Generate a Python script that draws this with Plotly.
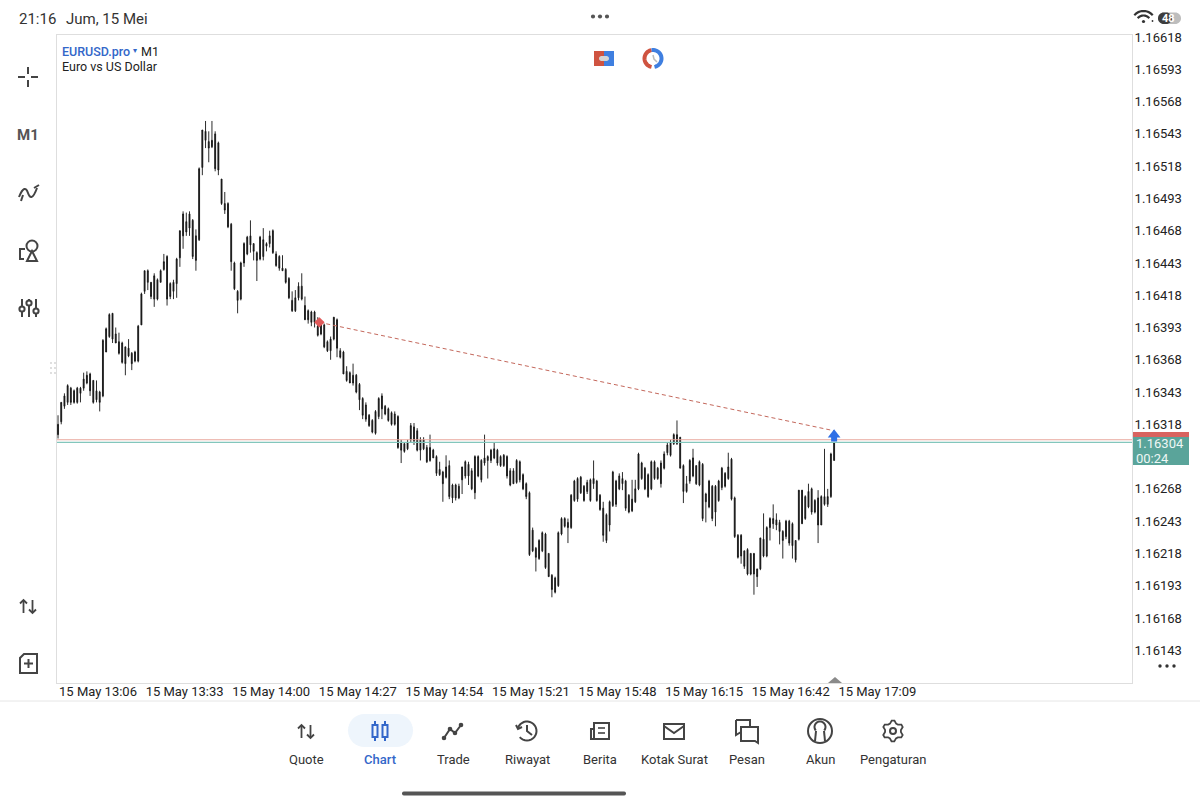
import math
import pandas as pd
import plotly.graph_objects as go

# M1 candles for EURUSD, in points above 1.16000 (1 pt = 0.00001)
BASE = 1.16
START = "2026-05-15 13:06"

high_pts = [
    325,335,342,349,347,345,347,347,358,359,
    358,352,352,344,384,393,404,404,393,389,
    382,378,384,374,375,395,420,437,438,428,
    435,431,438,450,449,428,430,447,468,483,
    482,483,477,469,517,546,553,545,553,545,
    537,508,498,490,474,444,422,444,459,464,
    476,458,452,464,470,459,468,469,452,449,
    449,439,432,421,422,428,435,417,407,406,
    406,401,396,396,383,386,401,400,377,375,
    363,359,365,357,350,339,335,326,322,329,
    339,342,333,331,328,328,325,306,304,306,
    319,319,315,308,308,302,310,299,294,289,
    282,294,290,272,272,272,285,290,289,284,
    294,294,291,310,294,299,304,299,294,295,
    294,284,284,291,290,280,273,266,238,223,
    229,235,234,218,202,200,235,246,246,245,
    264,275,277,278,271,275,276,290,275,264,
    258,249,259,282,275,280,281,275,264,275,
    275,296,289,285,280,290,290,285,290,297,
    304,306,311,321,308,287,278,291,299,286,
    290,288,265,275,271,271,275,285,281,296,
    292,262,233,233,220,222,218,218,206,230,
    249,239,246,256,249,244,236,244,244,242,
    228,267,267,263,272,269,260,267,263,299,
    268,296,304,
]
low_pts = [
    307,318,330,333,333,334,334,335,344,349,
    340,334,335,328,339,374,385,381,381,372,
    365,356,370,360,366,366,395,419,422,415,
    409,414,428,437,410,415,415,416,440,454,
    464,464,446,437,460,511,532,521,532,514,
    511,488,481,470,437,422,404,414,440,449,
    451,445,429,445,445,452,455,450,440,437,
    437,427,415,405,405,414,414,399,396,394,
    393,386,387,377,374,368,383,370,369,357,
    351,350,348,342,329,322,320,316,311,310,
    322,322,325,320,317,317,299,288,296,298,
    304,302,297,290,298,288,289,292,278,278,
    258,276,260,257,259,260,264,276,271,267,
    260,277,273,286,276,288,291,286,285,285,
    276,270,272,272,273,267,260,216,219,204,
    213,219,206,200,184,187,192,232,238,226,
    237,258,258,264,258,264,258,268,258,251,
    227,226,235,254,254,267,267,251,249,250,
    257,267,275,267,261,267,275,275,269,283,
    294,293,302,302,284,257,265,272,277,271,
    270,243,242,253,243,239,258,267,269,275,
    259,230,214,210,206,201,201,186,192,205,
    215,215,228,237,236,225,214,229,224,214,
    211,228,241,244,253,248,249,226,240,255,
    254,261,290,
]
body_top_pts = [
    318,335,340,348,346,344,346,346,353,356,
    357,352,344,343,383,392,403,404,388,382,
    381,378,377,373,374,394,419,437,437,428,
    433,430,437,444,448,427,428,446,468,481,
    475,481,476,464,516,546,545,537,538,543,
    536,508,489,489,473,443,421,443,458,463,
    464,458,451,463,461,458,464,468,450,448,
    439,438,431,414,416,425,425,410,406,405,
    405,394,395,395,382,384,401,399,375,374,
    359,358,356,356,349,338,333,325,321,328,
    338,340,332,330,327,326,324,304,303,304,
    317,316,313,306,306,300,300,298,293,283,
    281,285,286,271,271,270,285,289,287,282,
    293,293,290,292,293,298,299,298,293,294,
    293,282,282,290,289,279,272,265,236,222,
    228,234,233,218,201,199,234,245,245,242,
    263,274,276,277,270,273,275,276,274,263,
    253,248,258,281,274,278,276,274,263,260,
    268,295,288,284,279,289,289,284,288,295,
    302,304,310,310,308,286,272,290,292,286,
    289,287,264,274,270,270,274,284,280,285,
    291,261,232,232,220,221,218,218,206,230,
    229,238,245,245,244,242,235,243,243,241,
    228,267,267,262,266,268,259,261,262,262,
    262,295,304,
]
body_bottom_pts = [
    310,320,332,335,335,335,335,342,346,350,
    344,335,337,335,340,374,386,384,381,373,
    366,365,371,365,367,367,395,421,428,417,
    415,415,428,438,415,417,421,427,447,464,
    467,470,448,445,461,517,538,532,533,516,
    515,489,484,471,444,423,414,415,443,450,
    457,452,445,446,448,456,458,451,441,439,
    437,428,416,406,406,416,415,399,399,397,
    397,387,388,378,375,375,384,377,370,357,
    352,350,350,343,337,325,322,317,312,311,
    324,330,326,321,318,318,300,298,297,299,
    306,305,298,298,299,289,290,292,280,279,
    272,277,262,261,261,261,275,278,278,268,
    265,278,275,288,290,290,292,288,286,286,
    278,271,272,273,275,268,262,217,220,215,
    214,220,207,200,190,188,193,233,239,238,
    238,259,260,265,259,266,259,272,259,252,
    232,228,240,255,256,268,272,253,250,251,
    258,268,276,268,262,268,276,276,272,284,
    296,294,303,303,284,266,266,274,278,272,
    271,245,258,254,245,250,259,269,270,276,
    260,231,215,216,208,202,202,202,200,206,
    216,216,238,241,240,235,228,231,226,224,
    213,229,241,245,254,250,250,240,240,256,
    256,262,290,
]
assert len(high_pts) == len(low_pts) == len(body_top_pts) == len(body_bottom_pts) == 243

price_ticks = ["1.16618","1.16593","1.16568","1.16543","1.16518","1.16493","1.16468","1.16443",
               "1.16418","1.16393","1.16368","1.16343","1.16318","1.16268","1.16243","1.16218",
               "1.16193","1.16168","1.16143"]
time_ticks = ["13:06","13:33","14:00","14:27","14:54","15:21","15:48","16:15","16:42","17:09"]
nav_labels = ["Quote","Chart","Trade","Riwayat","Berita","Kotak Surat","Pesan","Akun","Pengaturan"]

bid_price = 1.16304
ask_price = 1.16306
trade_open_price = 1.16397
trade_close_price = 1.16313
arrow_head_price = 1.16310
arrow_stem_price = 1.16307

INK = "#222222"
ICON = "#444444"
BLUE = "#3367c9"

times = pd.date_range(START, periods=len(high_pts), freq="min")


def price(p):
    return BASE + p / 1e5


# Candle direction follows the movement of the body midpoint
mids = [(t + b) / 2 for t, b in zip(body_top_pts, body_bottom_pts)]
opens, closes = [], []
for i, (t, b) in enumerate(zip(body_top_pts, body_bottom_pts)):
    rising = i == 0 or mids[i] >= mids[i - 1]
    opens.append(price(b if rising else t))
    closes.append(price(t if rising else b))

fig = go.Figure()
fig.add_trace(go.Candlestick(
    x=times, open=opens, high=[price(v) for v in high_pts],
    low=[price(v) for v in low_pts], close=closes,
    increasing=dict(line=dict(color="#141414", width=0.9), fillcolor="#141414"),
    decreasing=dict(line=dict(color="#141414", width=0.9), fillcolor="#141414"),
    whiskerwidth=0, hoverinfo="skip", showlegend=False,
))

x_start = pd.Timestamp("2026-05-15 13:05:41")
x_end = pd.Timestamp("2026-05-15 18:40:53")

# Ask and bid price lines
for level, colour in ((ask_price, "#e8a79d"), (bid_price, "#83c6bc")):
    fig.add_trace(go.Scatter(x=[x_start, x_end], y=[level, level], mode="lines",
                             line=dict(color=colour, width=1.1), hoverinfo="skip", showlegend=False))

# Closed trade: dashed link, entry diamond, exit arrow
trade_open_t = pd.Timestamp("2026-05-15 14:27:30")
trade_close_t = times[-1]
fig.add_trace(go.Scatter(x=[trade_open_t, trade_close_t], y=[trade_open_price, trade_close_price],
                         mode="lines", line=dict(color="#c4685c", width=1, dash="4px,3px"),
                         hoverinfo="skip", showlegend=False))
fig.add_trace(go.Scatter(x=[trade_open_t], y=[trade_open_price], mode="markers",
                         marker=dict(symbol="diamond", size=8, color="#e05a5a"),
                         hoverinfo="skip", showlegend=False))
fig.add_trace(go.Scatter(x=[trade_close_t, trade_close_t], y=[arrow_stem_price, arrow_head_price],
                         mode="markers",
                         marker=dict(symbol=["square", "triangle-up"], size=[6, 11], color="#2f6fe6",
                                     opacity=1, line=dict(width=0)),
                         hoverinfo="skip", showlegend=False))

# Screen-space helpers for the app chrome around the chart
L, R, T, B = 57, 68, 35, 118
W, H = 1200, 801
PW, PH = W - L - R, H - T - B


def X(px):
    return (px - L) / PW


def Y(py):
    return 1 - (py - T) / PH


def to_paper(d):
    out, is_x = [], True
    for tok in d.split():
        if tok.isalpha():
            out.append(tok)
            is_x = True
        else:
            v = float(tok)
            out.append(f"{X(v):.5f}" if is_x else f"{Y(v):.5f}")
            is_x = not is_x
    return " ".join(out)


shapes, annotations = [], []


def path(d, colour=ICON, width=2, fill=None, layer="above"):
    shapes.append(dict(type="path", xref="paper", yref="paper", path=to_paper(d),
                       line=dict(color=colour, width=width), fillcolor=fill or "rgba(0,0,0,0)",
                       layer=layer))


def rect(x0, y0, x1, y1, fill, colour=None, width=0):
    shapes.append(dict(type="rect", xref="paper", yref="paper", x0=X(x0), x1=X(x1), y0=Y(y1), y1=Y(y0),
                       fillcolor=fill, line=dict(color=colour or fill, width=width), layer="above"))


def circle(cx, cy, r, fill=None, colour=ICON, width=2):
    shapes.append(dict(type="circle", xref="paper", yref="paper", x0=X(cx - r), x1=X(cx + r),
                       y0=Y(cy + r), y1=Y(cy - r), fillcolor=fill or "rgba(0,0,0,0)",
                       line=dict(color=colour, width=width), layer="above"))


def arc(cx, cy, r, a0, a1, n=24, move="M "):
    pts = []
    for k in range(n + 1):
        a = math.radians(a0 + (a1 - a0) * k / n)
        pts.append(f"{cx + r * math.cos(a):.2f} {cy - r * math.sin(a):.2f}")
    return move + " L ".join(pts)


def pill(x0, y0, x1, y1, fill, layer="above"):
    r = (y1 - y0) / 2
    d = arc(x1 - r, y0 + r, r, 90, -90, 16) + arc(x0 + r, y0 + r, r, 270, 90, 16, " L ") + " Z"
    path(d, fill, 0, fill, layer)


def text(x, y, s, size=13, colour=INK, anchor="left", weight=400):
    annotations.append(dict(xref="paper", yref="paper", x=X(x), y=Y(y), text=s, showarrow=False,
                            xanchor=anchor, yanchor="middle", borderpad=0, borderwidth=0,
                            font=dict(family="Roboto", size=size, color=colour, weight=weight)))


# Status bar
text(19, 19, "21:16", 15, "#333333")
text(66, 19, "Jum, 15 Mei", 15, "#333333")
for cx in (593, 600, 607):
    circle(cx, 16.5, 2.1, "#555555", "#555555", 0)
path(arc(1143.5, 23, 12, 40, 140), "#333333", 2.2)
path(arc(1143.5, 23, 7.5, 40, 140), "#333333", 2.2)
circle(1143.5, 21.5, 1.6, "#333333", "#333333", 0)
circle(1152.5, 21, 0.9, "#333333", "#333333", 0)
pill(1158, 12.5, 1181, 24, "#bdbdbd")
pill(1158, 12.5, 1172, 24, "#3d3d3d")
text(1168.5, 18.5, "48", 11, "#ffffff", "center", 700)

# Symbol header
text(62, 51, "EURUSD.pro", 12.5, BLUE, weight=500)
text(133, 50.5, "▾", 8, BLUE)
text(141, 51, "M1", 12.5, INK)
text(62, 66, "Euro vs US Dollar", 12.5, INK)

# One-click trading and timer buttons
rect(594, 51, 604, 66, "#cf5340")
rect(604, 51, 614, 66, "#3f7fe0")
pill(599, 56, 609, 61, "#d5d5d5")
path(arc(653, 58.5, 8.5, 100, 260), "#cf5340", 4)
path(arc(653, 58.5, 8.5, -80, 100), "#3f7fe0", 4)
path("M 653 55 L 654 59 L 657 62", "#bbbbbb", 1.5)

# Left toolbar
for d in ("M 18 77 L 25 77", "M 31 77 L 38 77", "M 28 67 L 28 74", "M 28 80 L 28 87"):
    path(d, ICON, 2)
text(28, 135, "M1", 15, "#555555", "center", 700)
path("M 19 197 C 23 187 26 187 28 193 C 30 199 33 199 37 188", ICON, 2)
path("M 21 201 L 23 195", ICON, 2)
path("M 34 188 L 39 185", ICON, 2)
circle(32, 246, 5.5)
path("M 27 261 L 32 251 L 37 261 Z", ICON, 2)
path("M 25 249 L 20 249 L 20 259 L 24 259", ICON, 2)
for cx, cy in ((22, 309), (29, 303), (36, 311)):
    path(f"M {cx} 299 L {cx} 317", ICON, 2)
    circle(cx, cy, 2.6, "#ffffff")


def swap_arrows(cx, cy):
    path(f"M {cx-4.5} {cy+7} L {cx-4.5} {cy-6}", ICON, 1.8)
    path(f"M {cx-8} {cy-2.5} L {cx-4.5} {cy-6} L {cx-1} {cy-2.5}", ICON, 1.8)
    path(f"M {cx+4.5} {cy-6} L {cx+4.5} {cy+7}", ICON, 1.8)
    path(f"M {cx+1} {cy+3.5} L {cx+4.5} {cy+7} L {cx+8} {cy+3.5}", ICON, 1.8)


swap_arrows(28, 606)
path("M 24 654 L 37 654 L 37 673 L 20 673 L 20 658 Z", ICON, 2)
path("M 28.5 659 L 28.5 668", ICON, 2)
path("M 24 663.5 L 33 663.5", ICON, 2)
for cy in (363, 368, 373):
    for cx in (51, 55):
        circle(cx, cy, 0.9, "#d0d0d0", "#d0d0d0", 0)

# Current price tag on the price scale
rect(1133, 432, 1189, 437, "#d9635f")
rect(1133, 437, 1189, 465, "#5aa49a")
text(1136, 443.5, "1.16304", 13, "#eef7f5")
text(1136, 458.5, "00:24", 13, "#eef7f5")

# Chart shift marker and overflow dots
path("M 828 683 L 835 677 L 842 683 Z", "#8a8a8a", 0, "#8a8a8a")
for cx in (1160, 1167, 1174):
    circle(cx, 666, 1.7, "#333333", "#333333", 0)

# Bottom navigation
path(f"M 0 701 L {W} 701", "#e6e6e6", 1)
pill(348, 714, 413, 747, "#eef5fc", "below")
nav_x = [306, 380, 453, 527, 600, 674, 747, 820, 893]
for lx, name in zip(nav_x, nav_labels):
    active = name == "Chart"
    text(lx, 759.5, name, 13, BLUE if active else "#333333", "center", 500 if active else 400)

swap_arrows(306, 731)
for cx in (375, 385):
    path(f"M {cx} 721 L {cx} 741", BLUE, 2)
    rect(cx - 2.5, 725, cx + 2.5, 737, "#eef5fc", BLUE, 2)
path("M 444 738 L 450 729 L 455 733 L 461 725", ICON, 2)
for cx, cy in ((444, 738), (461, 725), (450, 729), (455, 733)):
    circle(cx, cy, 2.3, ICON, ICON, 0)
path(arc(527, 731, 9.5, 160, -140), ICON, 2)
path("M 516 725 L 518 729 L 522 727", ICON, 2)
path("M 527 725 L 527 731 L 532 735", ICON, 2)
path("M 594 723 L 609 723 L 609 739 L 594 739 Z", ICON, 2)
path("M 594 739 L 591 739 L 591 729 L 594 729", ICON, 2)
path("M 598 728 L 605 728", ICON, 1.6)
path("M 598 733 L 605 733", ICON, 1.6)
path("M 664 724 L 684 724 L 684 739 L 664 739 Z", ICON, 2)
path("M 664 726 L 674 733 L 684 726", ICON, 2)
path("M 736 720 L 750 720 L 750 726", ICON, 2)
path("M 736 720 L 736 735 L 741 732", ICON, 2)
path("M 741 727 L 758 727 L 758 743 L 755 741 L 741 741 Z", ICON, 2)
circle(820, 731, 12)
path(arc(820, 727, 5.5, -40, 220), ICON, 2)
path("M 816 731 L 815 741", ICON, 2)
path("M 824 731 L 825 741", ICON, 2)
gear_pts = []
for k in range(24):
    radius = 10.5 if k % 4 in (0, 1) else 8
    a = math.radians(k * 15 + 22)
    gear_pts.append(f"{893 + radius * math.cos(a):.2f} {731 - radius * math.sin(a):.2f}")
path("M " + " L ".join(gear_pts) + " Z", ICON, 1.8)
circle(893, 731, 3)
pill(402, 791.5, 626, 795.5, "#555555")

fig.update_layout(
    width=W, height=H, autosize=False, margin=dict(l=L, r=R, t=T, b=B, pad=0),
    paper_bgcolor="#ffffff", plot_bgcolor="#ffffff",
    font=dict(family="Roboto", size=13, color=INK),
    boxgap=0.6,
    showlegend=False, shapes=shapes, annotations=annotations,
    xaxis=dict(
        type="date", range=[x_start, x_end], rangeslider=dict(visible=False),
        tickmode="array", tickvals=[pd.Timestamp(f"2026-05-15 {t}") for t in time_ticks],
        ticktext=[f"15 May {t}" for t in time_ticks], tickangle=0, ticklen=0,
        ticklabelshift=40, ticklabelstandoff=-4,
        showgrid=False, zeroline=False, showline=True, mirror=True, linecolor="#dedede", linewidth=1,
        tickfont=dict(family="Roboto", size=13, color=INK),
    ),
    yaxis=dict(
        side="right", range=[price(117.6), price(619.6)], tickmode="array",
        tickvals=[float(t) for t in price_ticks], ticktext=price_ticks, ticklen=0,
        ticklabelstandoff=-1,
        showgrid=False, zeroline=False, showline=True, mirror=True, linecolor="#dedede", linewidth=1,
        tickfont=dict(family="Roboto", size=13, color=INK),
    ),
)

fig.write_html("out.html", config={"displayModeBar": False})
